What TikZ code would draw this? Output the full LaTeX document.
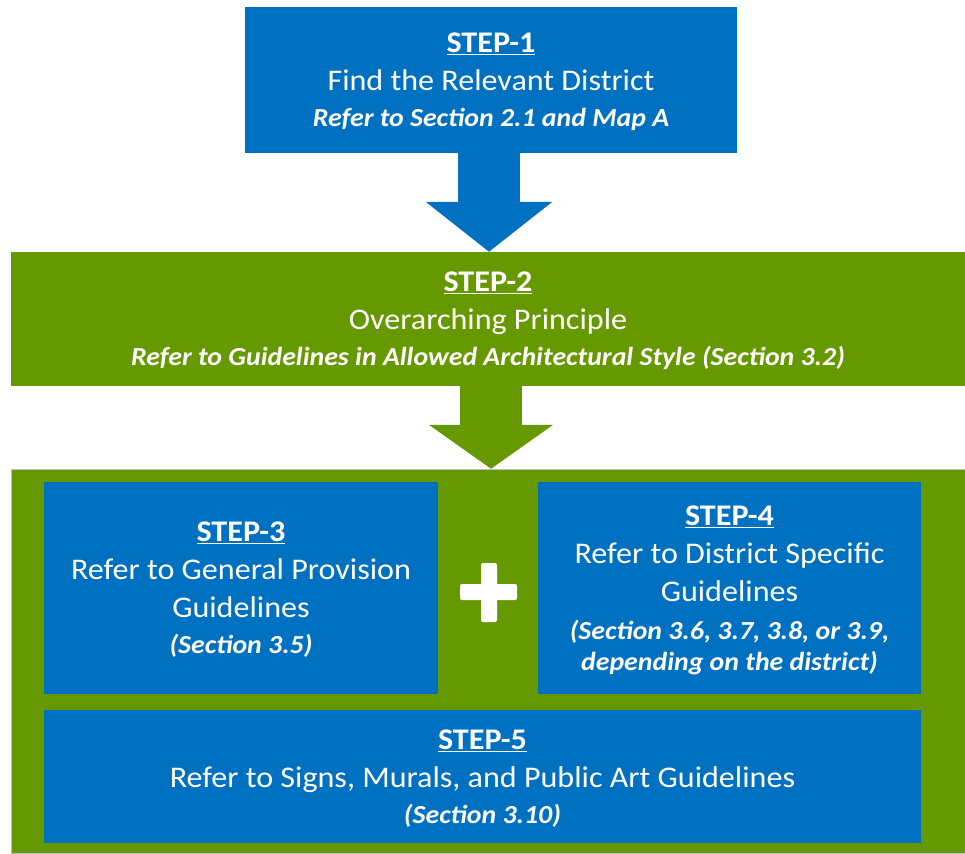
\documentclass[tikz,border=0pt]{standalone}
\usepackage{fontspec}
\setmainfont{Carlito}[FakeStretch=1.07]
\usetikzlibrary{arrows.meta}

\definecolor{stepblue}{HTML}{0070C0}
\definecolor{stepgreen}{HTML}{669900}

\newcommand{\stepnote}[1]{{\fontsize{26}{31}\selectfont\bfseries\itshape #1}}

\begin{document}
\begin{tikzpicture}[x=1pt,y=-1pt,
    every node/.style={text=white,align=center,inner sep=0pt,
      font=\fontsize{30}{38}\selectfont,text depth=-3pt},
    bluebox/.style={fill=stepblue},
    greenbox/.style={fill=stepgreen}]
  \useasboundingbox (0,0) rectangle (965,853);

  % outer green frame
  \node[greenbox,draw=black!25,minimum width=954pt,minimum height=384pt] (frame) at (488,661) {};

  \node[bluebox,minimum width=492pt,minimum height=146pt] (s1) at (491,80)
    {\textbf{\underline{STEP-1}}\\Find the Relevant District\\[-2pt]
     \stepnote{Refer to Section 2.1 and Map A}};
  \node[greenbox,minimum width=954pt,minimum height=134pt] (s2) at (488,319)
    {\textbf{\underline{STEP-2}}\\Overarching Principle\\[-2pt]
     \stepnote{Refer to Guidelines in Allowed Architectural Style (Section 3.2)}};
  \node[bluebox,minimum width=394pt,minimum height=212pt] (s3) at (241,588)
    {\textbf{\underline{STEP-3}}\\Refer to General Provision\\Guidelines\\[-2pt]
     \stepnote{(Section 3.5)}};
  \node[bluebox,minimum width=383pt,minimum height=212pt] (s4) at (729.5,588)
    {\textbf{\underline{STEP-4}}\\Refer to District Specific\\Guidelines\\
     \stepnote{(Section 3.6, 3.7, 3.8, or 3.9,}\\[-7pt]
     \stepnote{depending on the district)}};
  \node[bluebox,minimum width=877pt,minimum height=133pt] (s5) at (482.5,776.5)
    {\textbf{\underline{STEP-5}}\\Refer to Signs, Murals, and Public Art Guidelines\\[-2pt]
     \stepnote{(Section 3.10)}};

  % plus sign
  \fill[white,rounded corners=2pt] (481,563) rectangle (497,622);
  \fill[white,rounded corners=2pt] (460,584) rectangle (517,600);

  % block arrows
  \draw[stepblue,line width=62pt,-{Triangle[width=124pt,length=50pt]}]
    (s1.south -| 489,0) -- (s2.north -| 489,0);
  \draw[stepgreen,line width=62pt,-{Triangle[width=122pt,length=44pt]}]
    (s2.south -| 491,0) -- (frame.north -| 491,0);

\end{tikzpicture}
\end{document}
